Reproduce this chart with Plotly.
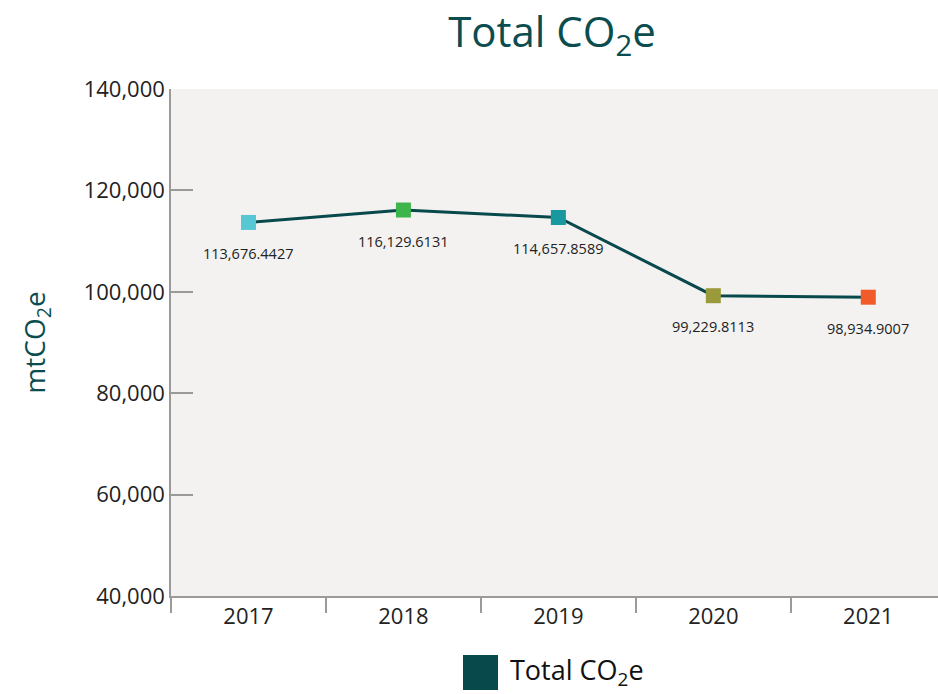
import plotly.graph_objects as go

years = ["2017", "2018", "2019", "2020", "2021"]
values = [113676.4427, 116129.6131, 114657.8589, 99229.8113, 98934.9007]
labels = ["113,676.4427", "116,129.6131", "114,657.8589", "99,229.8113", "98,934.9007"]
marker_colors = ["#58c7d4", "#3db54a", "#1a98a0", "#9b9a3a", "#f15a29"]
y_ticks = [40000, 60000, 80000, 100000, 120000, 140000]
y_tick_text = ["40,000", "60,000", "80,000", "100,000", "120,000", "140,000"]

W, H = 938, 694
L, R, T, B = 171, 0, 89, 98
pw, ph = W - L - R, H - T - B

def px(x):
    return (x - L) / pw

def py(y):
    return (H - B - y) / ph

teal = "#0b4d4f"
font = "Open Sans"

fig = go.Figure()
fig.add_trace(go.Scatter(
    x=years, y=values, mode="lines+markers",
    line=dict(color="#08494b", width=3),
    marker=dict(symbol="square", size=15, color=marker_colors, line=dict(width=0)),
    showlegend=False, hoverinfo="x+y",
))

for i, (y, t) in enumerate(zip(values, labels)):
    fig.add_annotation(x=i, y=y, text=t, showarrow=False, yshift=-31,
                       font=dict(family=font, size=14.5, color="#222222"))

# legend drawn manually
fig.add_shape(type="rect", xref="paper", yref="paper",
              x0=px(463), x1=px(498), y0=py(655), y1=py(690),
              fillcolor="#08494b", line=dict(width=0))
fig.add_annotation(xref="paper", yref="paper", x=px(508), y=py(672),
                   xanchor="left", yanchor="middle", showarrow=False,
                   text="Total CO<sub>2</sub>e",
                   font=dict(family=font, size=27, color="#111111"))

fig.update_layout(
    width=W, height=H,
    margin=dict(l=L, r=R, t=T, b=B),
    paper_bgcolor="white",
    plot_bgcolor="#f3f2f1",
    title=dict(text="Total CO<sub>2</sub>e", xref="container", x=552 / W, xanchor="center",
               y=1 - 32 / H, yanchor="middle",
               font=dict(family=font, size=42, color=teal)),
    font=dict(family=font),
)
fig.update_xaxes(
    type="category", range=[-0.5, 4.45],
    tickson="boundaries", ticks="outside", ticklen=15, tickcolor="#9a9a9a", tickwidth=1.5,
    showline=True, linecolor="#9a9a9a", linewidth=1.5,
    showgrid=False, zeroline=False,
    tickfont=dict(family=font, size=22, color="#222222"),
)
fig.update_yaxes(
    range=[40000, 140000], tickvals=y_ticks, ticktext=y_tick_text,
    ticks="inside", ticklen=22, tickcolor="#9a9a9a", tickwidth=1.5,
    showline=True, linecolor="#9a9a9a", linewidth=1.5,
    showgrid=False, zeroline=False,
    tickfont=dict(family=font, size=22, color="#222222"),
    title=dict(text="mtCO<sub>2</sub>e", standoff=30,
               font=dict(family=font, size=28, color=teal)),
)

fig.write_html("out.html", config={"displayModeBar": False},
               post_script="document.body.style.margin='0';document.body.style.overflow='hidden';")
